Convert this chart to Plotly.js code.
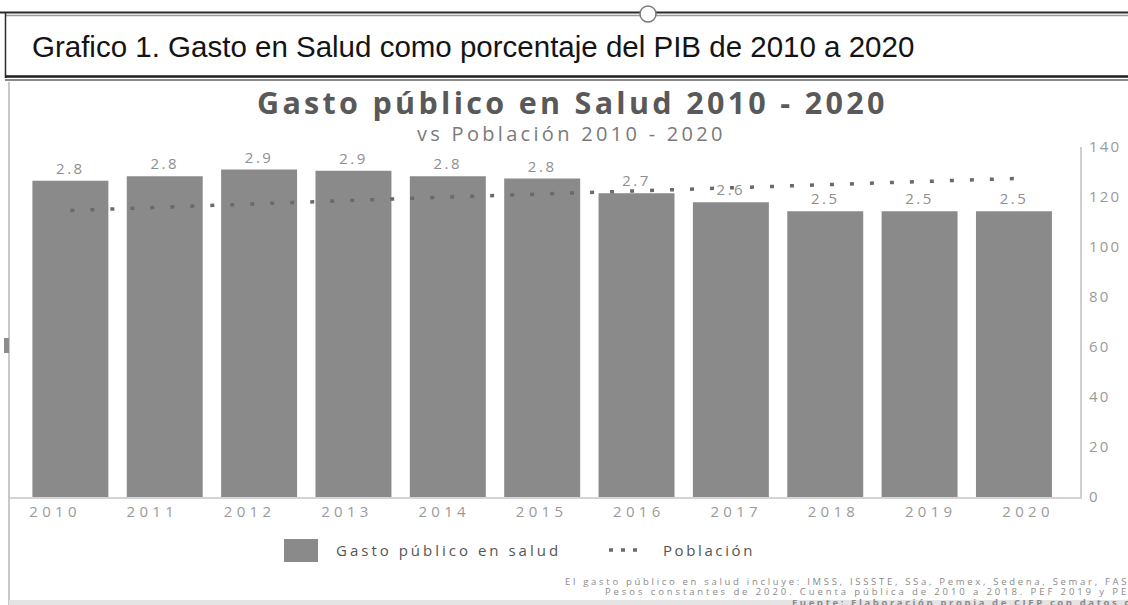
<!DOCTYPE html>
<html>
<head>
<meta charset="utf-8">
<script src="https://cdn.plot.ly/plotly-3.0.1.min.js"></script>
<style>
  html, body { margin: 0; padding: 0; background: #ffffff; }
  #chart { width: 1128px; height: 605px; }
  .x2tick text { letter-spacing: 4.3px; }
  .y2tick text { letter-spacing: 2.2px; }
  text.bartext { letter-spacing: 2.5px; }
</style>
</head>
<body>
<div id="chart"></div>
<script>
// ---- data ----
const years = ['2010', '2011', '2012', '2013', '2014', '2015', '2016', '2017', '2018', '2019', '2020'];
const gastoSaludPIB = [2.80, 2.84, 2.90, 2.89, 2.84, 2.82, 2.69, 2.61, 2.53, 2.53, 2.53];
const poblacion = [114.6, 116.0, 117.3, 118.7, 120.0, 121.2, 122.4, 123.6, 124.8, 126.1, 127.4];
const poblacionTicks = [0, 20, 40, 60, 80, 100, 120, 140];
const yearTickPositions = [0, 1, 2, 3, 4, 5, 6, 7, 8, 9, 10];

const captionText = 'Grafico 1. Gasto en Salud como porcentaje del PIB de 2010 a 2020';
const chartTitle = 'Gasto público en Salud 2010 - 2020';
const chartSubtitle = 'vs Población 2010 - 2020';
const serieGasto = 'Gasto público en salud';
const seriePoblacion = 'Población';
const footLines = [
  'El gasto público en salud incluye: IMSS, ISSSTE, SSa, Pemex, Sedena, Semar, FASSA',
  'Pesos constantes de 2020. Cuenta pública de 2010 a 2018. PEF 2019 y PEF 2020.',
  'Fuente: Elaboración propia de CIEP con datos de SHCP'
];

// ---- page geometry helpers (pixels -> paper fractions) ----
const W = 1128, H = 605;
const px = x => x / W;
const py = y => 1 - y / H;

const FONT = 'Open Sans, Noto Sans, sans-serif';

const traces = [
  {
    type: 'bar',
    name: serieGasto,
    x: years,
    y: gastoSaludPIB,
    xaxis: 'x',
    yaxis: 'y',
    marker: { color: '#8a8a8a', line: { width: 0 } },
    texttemplate: '%{y:.1f}',
    textposition: 'outside',
    textfont: { family: FONT, size: 15, color: '#8e8e8e' },
    cliponaxis: false,
    showlegend: false,
    hoverinfo: 'x+y'
  },
  {
    type: 'scatter',
    mode: 'lines',
    name: seriePoblacion,
    x: years,
    y: poblacion,
    xaxis: 'x',
    yaxis: 'y2',
    line: { color: '#6a6a6a', width: 3.5, dash: '4px,16px' },
    showlegend: false,
    hoverinfo: 'x+y'
  },
  // empty trace: only registers the year-label axis (x2) so that it is drawn
  {
    type: 'scatter',
    mode: 'none',
    x: [],
    y: [],
    xaxis: 'x2',
    yaxis: 'y',
    showlegend: false,
    hoverinfo: 'skip'
  }
];

function hline(y, x0, x1, color, width) {
  return { type: 'line', xref: 'paper', yref: 'paper', x0: px(x0), x1: px(x1), y0: py(y), y1: py(y),
           line: { color: color, width: width }, layer: 'above' };
}
function vline(x, y0, y1, color, width) {
  return { type: 'line', xref: 'paper', yref: 'paper', x0: px(x), x1: px(x), y0: py(y0), y1: py(y1),
           line: { color: color, width: width }, layer: 'above' };
}

const shapes = [
  // frame of the embedded chart picture
  vline(9, 82, 605, '#c9c9c9', 2),
  { type: 'rect', xref: 'paper', yref: 'paper', x0: px(9), x1: px(1128), y0: py(605), y1: py(600),
    fillcolor: '#e4e4e4', line: { width: 0 }, layer: 'above' },
  { type: 'rect', xref: 'paper', yref: 'paper', x0: px(4), x1: px(9), y0: py(353), y1: py(338),
    fillcolor: '#8c8c8c', line: { width: 0 }, layer: 'above' },
  // caption box borders
  hline(12.5, 0, 1128, '#2a2a2a', 2),
  hline(15.5, 5, 1128, '#9a9a9a', 1.5),
  vline(5.5, 12, 78, '#2a2a2a', 1.5),
  hline(76.5, 5, 1128, '#1e1e1e', 2.5),
  hline(80, 5, 1128, '#8a8a8a', 2),
  // selection handle
  { type: 'circle', xref: 'paper', yref: 'paper', x0: px(640), x1: px(656), y0: py(22), y1: py(6),
    fillcolor: '#ffffff', line: { color: '#7a7a7a', width: 1.5 }, layer: 'above' },
  // legend symbols
  { type: 'rect', xref: 'paper', yref: 'paper', x0: px(284), x1: px(318), y0: py(562), y1: py(539),
    fillcolor: '#8a8a8a', line: { width: 0 }, layer: 'above' },
  { type: 'line', xref: 'paper', yref: 'paper', x0: px(609), x1: px(638), y0: py(550), y1: py(550),
    line: { color: '#6a6a6a', width: 3.5, dash: '4px,8px' }, layer: 'above' }
];

function sp(text, ls) {
  return '<span style="letter-spacing:' + ls + 'px">' + text + '</span>';
}

const footFont = { family: FONT, size: 9.5, color: '#8a8a8a' };
const annotations = [
  { text: captionText, x: px(30), y: py(46), xanchor: 'left', yanchor: 'middle',
    font: { family: 'Liberation Sans Narrow, Arial Narrow, sans-serif', size: 29.5, color: '#141414' } },
  { text: sp(chartTitle, 3.3), x: px(572), y: py(101.5), xanchor: 'center', yanchor: 'middle',
    font: { family: FONT, size: 30.5, weight: 700, color: '#595959' } },
  { text: sp(chartSubtitle, 3.3), x: px(571), y: py(133), xanchor: 'center', yanchor: 'middle',
    font: { family: FONT, size: 20, color: '#7a7a7a' } },
  { text: sp(serieGasto, 3), x: px(334), y: py(550), xanchor: 'left', yanchor: 'middle',
    font: { family: FONT, size: 15, color: '#555555' } },
  { text: sp(seriePoblacion, 2.6), x: px(661), y: py(550), xanchor: 'left', yanchor: 'middle',
    font: { family: FONT, size: 15, color: '#555555' } },
  { text: sp(footLines[0], 2.7), x: px(563), y: py(581.5), xanchor: 'left', yanchor: 'middle', font: footFont },
  { text: sp(footLines[1], 2.9), x: px(603), y: py(591), xanchor: 'left', yanchor: 'middle', font: footFont },
  { text: sp('<b>' + footLines[2] + '</b>', 2.6), x: px(790), y: py(602), xanchor: 'left', yanchor: 'middle',
    font: footFont }
].map(a => Object.assign({ xref: 'paper', yref: 'paper', showarrow: false }, a));

const layout = {
  width: W,
  height: H,
  margin: { l: 0, r: 0, t: 0, b: 0, pad: 0 },
  paper_bgcolor: '#ffffff',
  plot_bgcolor: 'rgba(0,0,0,0)',
  showlegend: false,
  bargap: 0.195,
  font: { family: FONT, color: '#8a8a8a' },
  xaxis: {
    type: 'category',
    domain: [px(10), px(1080)],
    range: [-0.64, 10.70],
    showline: true,
    linecolor: '#d4d4d4',
    linewidth: 2,
    ticks: '',
    showgrid: false,
    zeroline: false,
    showticklabels: false,
    fixedrange: true
  },
  // year labels, spread a little wider than the bars as in the reference picture
  xaxis2: {
    type: 'linear',
    overlaying: 'x',
    anchor: 'y',
    side: 'bottom',
    domain: [px(10), px(1080)],
    range: [-0.4625, 10.534],
    autorange: false,
    tickmode: 'array',
    tickvals: yearTickPositions,
    ticktext: years,
    showline: false,
    ticks: '',
    showgrid: false,
    zeroline: false,
    tickfont: { family: FONT, size: 15, color: '#9a9a9a' },
    ticklabelstandoff: 4,
    fixedrange: true
  },
  yaxis: {
    domain: [py(497), py(147)],
    range: [0, 3.1],
    visible: false,
    fixedrange: true
  },
  yaxis2: {
    overlaying: 'y',
    side: 'right',
    anchor: 'x',
    range: [0, 140],
    tickmode: 'array',
    tickvals: poblacionTicks,
    showline: true,
    linecolor: '#cfcfcf',
    linewidth: 2,
    ticks: '',
    showgrid: false,
    zeroline: false,
    tickfont: { family: FONT, size: 15, color: '#9a9a9a' },
    ticklabelstandoff: 4,
    fixedrange: true
  },
  shapes: shapes,
  annotations: annotations
};

Plotly.newPlot('chart', traces, layout, { displayModeBar: false, staticPlot: true });
</script>
</body>
</html>
